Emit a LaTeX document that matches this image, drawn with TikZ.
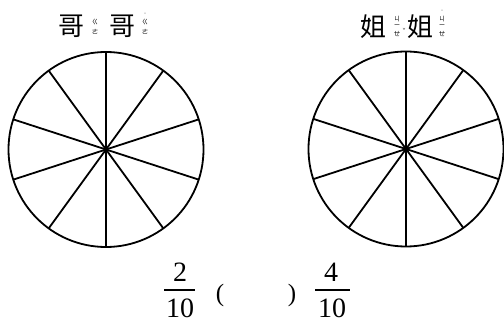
\documentclass[tikz,border=0pt]{standalone}
\usepackage{fontspec}
\usetikzlibrary{calc}
\setmainfont{Liberation Serif}
\newfontfamily\cjk{Noto Sans CJK TC}
\newfontfamily\cjkv[RawFeature=+vert]{Noto Sans CJK TC}
\begin{document}
\begin{tikzpicture}[x=1pt,y=1pt,
  wheel/.style={line width=1.8pt},
  han/.style={font=\cjk\fontsize{26}{26}\selectfont, inner sep=0pt},
  zhuyin/.style={font=\cjkv\fontsize{6.5}{9.5}\selectfont, inner sep=0pt, align=center},
  tone/.style={font=\cjk\fontsize{5}{5}\selectfont, inner sep=0pt},
  num/.style={font=\fontsize{28}{28}\selectfont, inner sep=0pt},
  paren/.style={font=\fontsize{25}{25}\selectfont, inner sep=0pt},
  fracbar/.style={line width=1.2pt}]
\useasboundingbox (0,0) rectangle (504,327);
% wheels
\coordinate (cL) at (106,177.5);
\coordinate (cR) at (406,178);
\foreach \c in {cL,cR}{
  \draw[wheel] (\c) circle[radius=97.5];
  \foreach \a in {90,54,18,-18,-54}{
    \draw[wheel] ($(\c)+(\a:97.5)$) -- ($(\c)+(\a+180:97.5)$);
  }
}
% labels left
\node[han] (ge1) at (71,301) {哥};
\node[zhuyin] (gz1) at (95,300) {ㄍ\\ㄜ};
\node[han] (ge2) at (122,301) {哥};
\node[zhuyin] (gz2) at (145,300) {ㄍ\\ㄜ};
\node[tone] (gt2) at (145,313) {˙};
% labels right
\node[han] (je1) at (373,300) {姐};
\node[zhuyin] (jz1a) at (397,308) {ㄐ};
\node[zhuyin] (jz1b) at (397,301) {ㄧ};
\node[zhuyin] (jz1c) at (397,293) {ㄝ};
\node[tone] (jt1) at (404,297) {ˇ};
\node[han] (je2) at (420,300) {姐};
\node[zhuyin] (jz2a) at (442,308) {ㄐ};
\node[zhuyin] (jz2b) at (442,301) {ㄧ};
\node[zhuyin] (jz2c) at (442,293) {ㄝ};
\node[tone] (jt2) at (442,316) {˙};
% fractions
\node[num] (n1) at (180,54.5) {2};
\coordinate (b1l) at (164,37);
\coordinate (b1r) at (195,37);
\draw[fracbar] (b1l) -- (b1r);
\node[num] (d1) at (180,18.5) {10};
\node[paren] (pl) at (220,32) {(};
\node[paren] (pr) at (292,32) {)};
\node[num] (n2) at (331,54.5) {4};
\coordinate (b2l) at (315,37);
\coordinate (b2r) at (350,37);
\draw[fracbar] (b2l) -- (b2r);
\node[num] (d2) at (332,18.5) {10};
\end{tikzpicture}
\end{document}
